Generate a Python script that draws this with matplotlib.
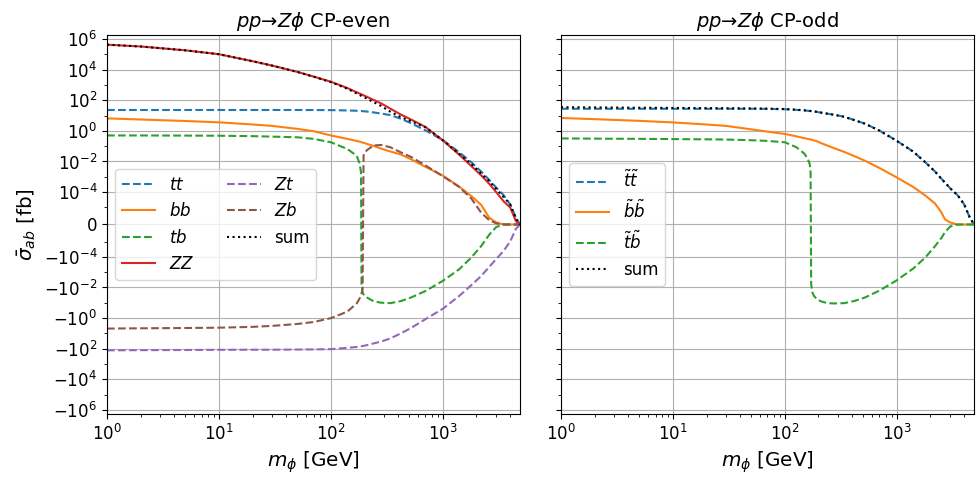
import numpy as np
import matplotlib
matplotlib.use("Agg")
import matplotlib.pyplot as plt
from matplotlib.ticker import FixedLocator

# ---------------- CP-even panel data ----------------
m_even = [1, 2, 5, 10, 20, 30, 50, 70, 100, 140, 170, 180, 186, 188, 192, 196, 200, 210,
          240, 280, 340, 420, 520, 700, 1000, 1400, 1800, 2200, 2600, 3000, 3500, 4000, 4500, 4900]
tt_even = [23, 23, 23, 23, 23, 23, 23, 22.8, 22.5, 21.5, 20.5, 20, 19.7, 19.5, 19.2, 19, 18.8, 18.2,
           16, 13.5, 10.7, 6.2, 3.2, 1.07, 0.25, 0.04, 8.9e-3, 2.2e-3, 6.3e-4, 2e-4, 6.3e-5, 1.6e-5, 4e-6, 0]
bb_even = [6.5, 5.5, 4.4, 3.6, 2.6, 2.1, 1.35, 0.95, 0.5, 0.3, 0.22, 0.2, 0.185, 0.18, 0.17, 0.165, 0.16, 0.14,
           0.105, 0.07, 0.045, 0.029, 0.014, 0.0045, 0.0012, 2.3e-4, 5.5e-5, 1.5e-5, 4e-6, 1.2e-6, 0, 0, 0, 0]
tb_even = [0.50, 0.50, 0.49, 0.48, 0.45, 0.42, 0.38, 0.30, 0.18, 0.066, 0.024, 0.008, 0.002, -0.006, -0.02, -0.028, -0.034, -0.045,
           -0.078, -0.098, -0.105, -0.078, -0.045, -0.017, -0.0037, -6.5e-4, -1.1e-4, -2e-5, -6e-6, -1.5e-6, 0, 0, 0, 0]
ZZ_even = [4.2e5, 3.2e5, 1.8e5, 1.0e5, 3.5e4, 1.8e4, 7.1e3, 3.5e3, 1.6e3, 630, 330, 275, 245, 238, 223, 208, 195, 166,
           105, 63, 28, 11.8, 5.5, 1.8, 0.24, 0.028, 5e-3, 1.26e-3, 3.5e-4, 1e-4, 2.5e-5, 1e-5, 2e-6, 0]
Zt_even = [-126, -123, -120, -117, -115, -115, -112, -110, -105, -87, -76, -72, -69, -68, -66, -65, -62, -58,
           -45, -34, -21, -10, -4.4, -1.17, -0.245, -0.036, -7e-3, -1.8e-3, -4.5e-4, -1.4e-4, -4e-5, -1e-5, -2.5e-6, 0]
Zb_even = [-4.8, -4.6, -4.4, -4.2, -3.7, -3.2, -2.4, -1.8, -1.0, -0.38, -0.11, -0.055, -0.032, -0.025, -0.012, 0.025, 0.035, 0.055,
           0.11, 0.12, 0.085, 0.04, 0.02, 0.0055, 0.0011, 2.2e-4, 3.8e-5, 7e-6, 2.5e-6, 7e-7, 0, 0, 0, 0]

# ---------------- CP-odd panel data ----------------
m_odd = [1, 2, 5, 10, 20, 30, 50, 70, 100, 127, 150, 160, 167, 170, 172, 176, 182, 192, 210, 240, 280, 340,
         420, 520, 700, 1000, 1400, 1800, 2200, 2500, 2700, 3000, 3500, 4000, 4500, 4900]
tt_odd = [27.5, 27.5, 27.5, 27.5, 27.5, 27.5, 27.5, 27, 25.7, 23.4, 21.4, 20.4, 19.8, 19.5, 19.3, 19.0, 18.4, 17.4, 15.5, 13.2, 11, 8.3,
          5.0, 2.95, 1.05, 0.224, 0.045, 8.9e-3, 2.2e-3, 7.6e-4, 4.2e-4, 1.8e-4, 6.3e-5, 1.6e-5, 4e-6, 0]
bb_odd = [6.9, 5.8, 4.5, 3.55, 2.6, 2.1, 1.26, 0.89, 0.63, 0.44, 0.33, 0.30, 0.28, 0.275, 0.27, 0.257, 0.24, 0.214, 0.16, 0.11, 0.071, 0.042,
          0.022, 0.0112, 0.0038, 9.1e-4, 2.2e-4, 6e-5, 1.8e-5, 7.2e-6, 3e-6, 1.2e-6, 0, 0, 0, 0]
tb_odd = [0.32, 0.31, 0.30, 0.29, 0.28, 0.27, 0.245, 0.22, 0.18, 0.085, 0.032, 0.015, 0.0069, 0.002, -0.006, -0.02, -0.035, -0.054, -0.08, -0.105, -0.11, -0.105,
          -0.075, -0.045, -0.016, -0.0034, -5.9e-4, -1.1e-4, -2e-5, -8e-6, -4.5e-6, -1.2e-6, 0, 0, 0, 0]

# y ticks: every second decade (major), odd decades (minor)
y_major = [-1e6, -1e4, -1e2, -1, -1e-2, -1e-4, 0, 1e-4, 1e-2, 1, 1e2, 1e4, 1e6]
y_minor = [-1e5, -1e3, -1e1, -1e-1, -1e-3, -1e-5, 1e-5, 1e-3, 1e-1, 1e1, 1e3, 1e5]

even_series = [("$tt$", tt_even, "C0", "--"), ("$bb$", bb_even, "C1", "-"), ("$tb$", tb_even, "C2", "--"),
               ("$ZZ$", ZZ_even, "C3", "-"), ("$Zt$", Zt_even, "C4", "--"), ("$Zb$", Zb_even, "C5", "--")]
odd_series = [(r"$\tilde{t}\tilde{t}$", tt_odd, "C0", "--"), (r"$\tilde{b}\tilde{b}$", bb_odd, "C1", "-"),
              (r"$\tilde{t}\tilde{b}$", tb_odd, "C2", "--")]

plt.rcParams["font.size"] = 12

fig, (ax1, ax2) = plt.subplots(1, 2, sharey=True, figsize=(9.78, 4.8), dpi=100)
fig.subplots_adjust(left=0.1094, right=0.9959, bottom=0.1375, top=0.9271, wspace=0.099)

for ax, m, series, title in [(ax1, m_even, even_series, r"$pp$→$Z\phi$ CP-even"),
                             (ax2, m_odd, odd_series, r"$pp$→$Z\phi$ CP-odd")]:
    total = np.zeros(len(m))
    for label, vals, color, ls in series:
        ax.plot(m, vals, color=color, ls=ls, lw=1.5, label=label)
        total += np.asarray(vals, dtype=float)
    ax.plot(m, total, color="black", ls=":", lw=1.5, label="sum")
    ax.set_xscale("log")
    ax.set_yscale("symlog", linthresh=1e-5)
    ax.set_xlim(1, 4900)
    ax.set_ylim(-1.8e6, 1.8e6)
    ax.grid(True, which="major")
    ax.set_title(title, fontsize=14)
    ax.set_xlabel(r"$m_\phi$ [GeV]", fontsize=14.4)

ax1.yaxis.set_major_locator(FixedLocator(y_major))
ax1.yaxis.set_minor_locator(FixedLocator(y_minor))
ax1.set_ylabel(r"$\bar{\sigma}_{ab}$ [fb]", fontsize=14.4)
ax1.legend(loc="center left", ncol=2)
ax2.legend(loc="center left")

fig.savefig("out.png", dpi=100)
